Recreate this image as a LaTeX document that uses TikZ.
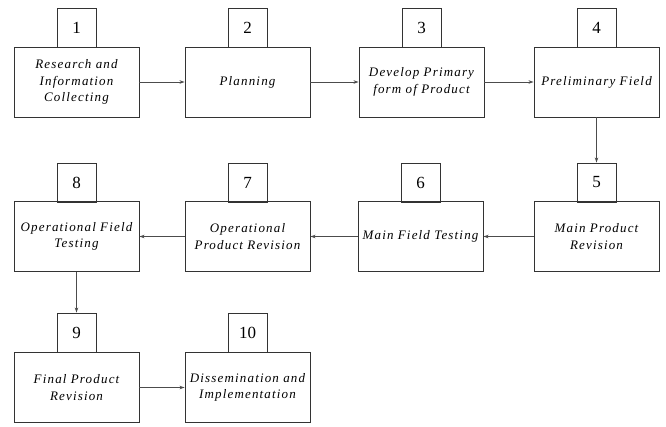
\documentclass[tikz,border=0pt]{standalone}
\usepackage{fontspec}
\setmainfont{Liberation Serif}
\newfontfamily\labfont[LetterSpace=9]{Liberation Serif}
\usetikzlibrary{arrows.meta}
\tikzset{
  mainbox/.style={draw=black!80, line width=0.9pt, minimum width=125pt, minimum height=70pt, inner sep=1pt,
    text width=123pt, align=center, font=\labfont\itshape\fontsize{13}{16.5}\selectfont, text=black},
  numbox/.style={draw=black!80, line width=0.9pt, minimum width=39pt, minimum height=39pt, inner sep=0pt,
    font=\fontsize{17}{18}\selectfont, text=black},
  flow/.style={draw=black!70, line width=0.8pt, -{Stealth[length=5pt,width=3.5pt]}}
}
\begin{document}
\begin{tikzpicture}[x=1pt,y=-1pt]
\useasboundingbox (0,0) rectangle (666,426);
% row 1
\node[mainbox] (m1) at (76.5,82) {Research and\\Information\\Collecting};
\node[mainbox] (m2) at (247.5,82) {Planning};
\node[mainbox] (m3) at (421.5,82) {Develop Primary\\form of Product};
\node[mainbox] (m4) at (596.5,82) {Preliminary Field};
\node[numbox] (n1) at (76.5,27.5) {1};
\node[numbox] (n2) at (247.5,27.5) {2};
\node[numbox] (n3) at (421.5,27.5) {3};
\node[numbox] (n4) at (596.5,27.5) {4};
% row 2
\node[mainbox] (m8) at (76.5,236.5) {Operational Field\\Testing};
\node[mainbox] (m7) at (247.5,236.5) {Operational\\Product Revision};
\node[mainbox] (m6) at (420.5,236.5) {Main Field Testing};
\node[mainbox] (m5) at (596.5,236.5) {Main Product\\Revision};
\node[numbox] (n8) at (76.5,182.5) {8};
\node[numbox] (n7) at (247.5,182.5) {7};
\node[numbox] (n6) at (420.5,182.5) {6};
\node[numbox] (n5) at (596.5,182.5) {5};
% row 3
\node[mainbox] (m9) at (76.5,387.5) {Final Product\\Revision};
\node[mainbox] (m10) at (247.5,387.5) {Dissemination and\\Implementation};
\node[numbox] (n9) at (76.5,332.5) {9};
\node[numbox] (n10) at (247.5,332.5) {10};
% connectors
\draw[flow] (m1) -- (m2);
\draw[flow] (m2) -- (m3);
\draw[flow] (m3) -- (m4);
\draw[flow] (m4) -- (n5);
\draw[flow] (m5) -- (m6);
\draw[flow] (m6) -- (m7);
\draw[flow] (m7) -- (m8);
\draw[flow] (m8) -- (n9);
\draw[flow] (m9) -- (m10);
\end{tikzpicture}
\end{document}
